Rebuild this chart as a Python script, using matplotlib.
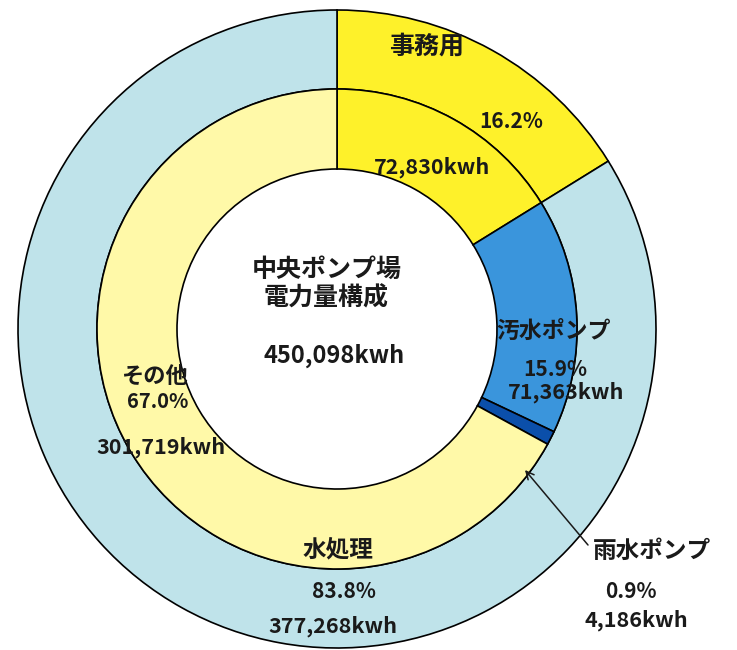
import matplotlib
matplotlib.use("Agg")
import matplotlib.pyplot as plt
from matplotlib import font_manager as fm

# ---- data ----
outer_labels = ["事務用", "水処理"]
outer_values = [72830, 377268]
inner_labels = ["事務用", "汚水ポンプ", "雨水ポンプ", "その他"]
inner_values = [72830, 71363, 4186, 301719]
title_lines = ["中央ポンプ場", "電力量構成"]
total = sum(outer_values)

outer_colors = ["#FEF12A", "#BFE3EA"]
inner_colors = ["#FEF12A", "#3A95DC", "#0B4FAA", "#FFF9A8"]

JP = "Noto Sans CJK JP"
NUM = [JP, "DejaVu Sans"]
plt.rcParams["font.family"] = [JP, "DejaVu Sans"]
WEIGHT = "bold"

W, H = 737, 650
fig = plt.figure(figsize=(W / 100, H / 100), dpi=100)
ax = fig.add_axes([0, 0, 1, 1])

def Y(y):
    return H - y

cx, cy = 337, Y(329)
R_out, R_mid, R_in = 319, 240, 160
ew = 1.2

ax.pie(outer_values, radius=R_out, center=(cx, cy), startangle=90,
       counterclock=False, colors=outer_colors,
       wedgeprops=dict(width=R_out - R_mid, edgecolor="black", linewidth=ew))
ax.pie(inner_values, radius=R_mid, center=(cx, cy), startangle=90,
       counterclock=False, colors=inner_colors,
       wedgeprops=dict(width=R_mid - R_in, edgecolor="black", linewidth=ew))
ax.set_xlim(0, W)
ax.set_ylim(0, H)
ax.set_aspect("equal")
ax.axis("off")

def pct(v):
    return f"{v / total * 100:.1f}%"

def kwh(v):
    return f"{v:,}kwh"

def lab(x, y, s, size=17):
    ax.text(x, Y(y), s, ha="center", va="center", fontsize=size,
            color="#1a1a1a", family=[JP, "DejaVu Sans"], fontweight=WEIGHT)

def num(x, y, s, size=16):
    ax.text(x, Y(y), s, ha="center", va="center", fontsize=size,
            color="#1a1a1a", family=NUM, fontweight=WEIGHT)

# centre
lab(327, 270, title_lines[0], 18)
lab(326, 298, title_lines[1], 18)
num(334, 356, kwh(total), 17)

# 事務用
lab(427, 47, outer_labels[0], 18)
num(511, 122, pct(outer_values[0]), 15)
num(432, 167, kwh(inner_values[0]), 15.5)

# 汚水ポンプ
lab(554, 331, inner_labels[1], 16.5)
num(555, 369, pct(inner_values[1]), 15)
num(566, 392, kwh(inner_values[1]), 15.5)

# その他
lab(154, 376, inner_labels[3], 16)
num(158, 401, pct(inner_values[3]), 14.5)
num(161, 447, kwh(inner_values[3]), 15.5)

# 水処理
lab(338, 549, outer_labels[1], 17)
num(344, 592, pct(outer_values[1]), 15)
num(333, 626, kwh(outer_values[1]), 15.5)

# 雨水ポンプ
lab(652, 551, inner_labels[2], 17)
num(631, 592, pct(inner_values[2]), 15)
num(636, 620, kwh(inner_values[2]), 15.5)

ax.annotate("", xy=(525, Y(470)), xytext=(588, Y(545)),
            arrowprops=dict(arrowstyle="->", color="#1a1a1a", lw=1.1,
                            mutation_scale=14, shrinkA=0, shrinkB=0))

fig.savefig("out.png", dpi=100, facecolor="white")
